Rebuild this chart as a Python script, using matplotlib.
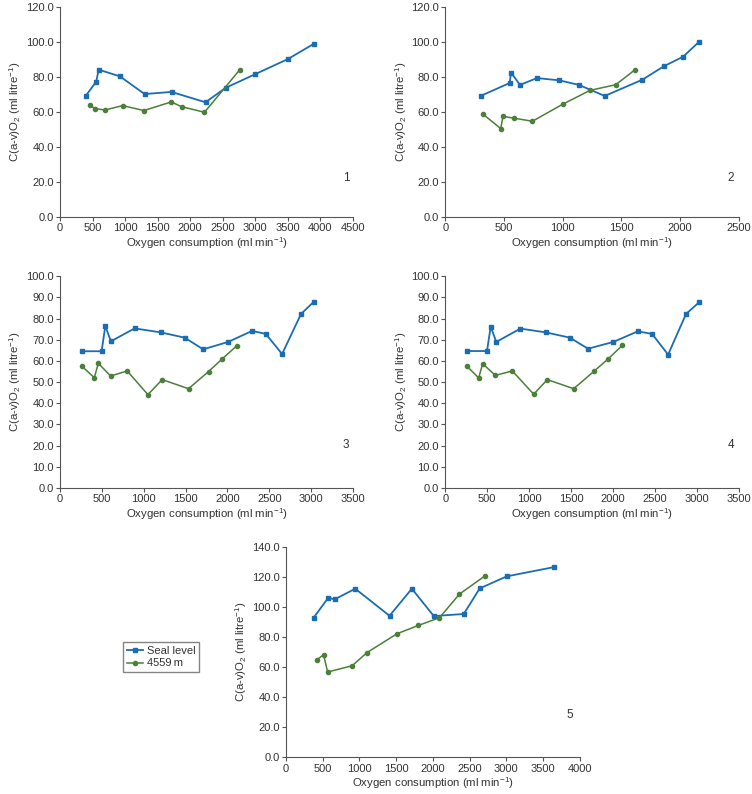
import matplotlib
matplotlib.use("Agg")
import matplotlib.pyplot as plt
from matplotlib.ticker import FormatStrFormatter

plt.rcParams['font.family'] = ['Liberation Sans', 'DejaVu Sans']
plt.rcParams['font.size'] = 8
plt.rcParams['mathtext.fontset'] = 'custom'
plt.rcParams['mathtext.rm'] = 'Liberation Sans'

BLUE = '#1b6db3'
GREEN = '#4b7f3a'
TXT = '#333333'

# Panel 1
p1_sea_x = [394, 557, 593, 920, 1299, 1713, 2235, 2547, 3002, 3498, 3902]
p1_sea_y = [69.0, 77.2, 84.0, 80.2, 70.1, 71.3, 65.4, 73.7, 81.5, 90.0, 98.8]
p1_alt_x = [460, 537, 690, 961, 1289, 1708, 1867, 2219, 2762]
p1_alt_y = [63.7, 61.8, 61.0, 63.5, 60.7, 65.6, 62.9, 59.7, 84.0]

# Panel 2
p2_sea_x = [307, 548, 560, 636, 781, 972, 1139, 1358, 1679, 1861, 2026, 2162]
p2_sea_y = [69.2, 76.4, 82.3, 75.3, 79.2, 77.9, 75.3, 69.0, 78.3, 85.9, 91.4, 99.9]
p2_alt_x = [318, 472, 491, 588, 742, 1006, 1233, 1452, 1617]
p2_alt_y = [58.8, 50.4, 57.4, 56.3, 54.6, 64.5, 72.2, 75.4, 84.0]

# Panel 3
p3_sea_x = [259, 497, 541, 608, 891, 1205, 1491, 1710, 2008, 2295, 2458, 2653, 2879, 3030]
p3_sea_y = [64.6, 64.6, 76.5, 69.3, 75.4, 73.5, 71.0, 65.5, 69.0, 74.2, 72.8, 63.3, 82.2, 87.9]
p3_alt_x = [262, 410, 457, 605, 803, 1050, 1221, 1535, 1774, 1941, 2112]
p3_alt_y = [57.5, 52.1, 58.9, 52.9, 55.3, 44.1, 51.2, 46.9, 55.0, 61.1, 67.2]

# Panel 4
p4_sea_x = [255, 497, 541, 608, 895, 1201, 1487, 1702, 2004, 2295, 2466, 2657, 2871, 3026]
p4_sea_y = [64.7, 64.7, 76.2, 69.0, 75.3, 73.5, 71.0, 65.8, 69.0, 74.0, 72.8, 63.0, 82.2, 87.7]
p4_alt_x = [258, 398, 445, 597, 799, 1054, 1217, 1531, 1778, 1945, 2112]
p4_alt_y = [57.5, 52.0, 58.7, 53.2, 55.3, 44.3, 51.2, 46.9, 55.3, 61.1, 67.4]

# Panel 5
p5_sea_x = [376, 576, 662, 943, 1410, 1714, 2013, 2421, 2638, 3005, 3654]
p5_sea_y = [92.8, 106.1, 105.0, 112.1, 94.1, 112.1, 93.9, 95.3, 112.3, 120.3, 126.5]
p5_alt_x = [422, 512, 567, 902, 1102, 1514, 1804, 2090, 2362, 2706]
p5_alt_y = [64.9, 68.2, 56.7, 60.9, 69.6, 82.2, 87.7, 92.8, 108.5, 120.5]

panels = [
    ("1", p1_sea_x, p1_sea_y, p1_alt_x, p1_alt_y, 4500, 500, 120, 20),
    ("2", p2_sea_x, p2_sea_y, p2_alt_x, p2_alt_y, 2500, 500, 120, 20),
    ("3", p3_sea_x, p3_sea_y, p3_alt_x, p3_alt_y, 3500, 500, 100, 10),
    ("4", p4_sea_x, p4_sea_y, p4_alt_x, p4_alt_y, 3500, 500, 100, 10),
    ("5", p5_sea_x, p5_sea_y, p5_alt_x, p5_alt_y, 4000, 500, 140, 20),
]

# axes rectangles in figure fractions
rects = [
    [0.0798, 0.7267, 0.3896, 0.2651],
    [0.5922, 0.7267, 0.3902, 0.2651],
    [0.0798, 0.3854, 0.3896, 0.2666],
    [0.5922, 0.3854, 0.3902, 0.2666],
    [0.3803, 0.0462, 0.3906, 0.2652],
]
num_pos = [(0.976, 0.185), (0.974, 0.185), (0.976, 0.203), (0.974, 0.203), (0.967, 0.20)]

fig = plt.figure(figsize=(7.52, 7.94), dpi=100)

for (name, sx, sy, ax_, ay, xmax, xstep, ymax, ystep), rect, npos in zip(panels, rects, num_pos):
    ax = fig.add_axes(rect)
    l1, = ax.plot(sx, sy, color=BLUE, marker='s', markersize=3.2, lw=1.3, label='Seal level')
    l2, = ax.plot(ax_, ay, color=GREEN, marker='o', markersize=3.0, lw=1.1, label='4559\u2009m')
    ax.set_xlim(0, xmax)
    ax.set_ylim(0, ymax)
    ax.set_xticks(range(0, xmax + 1, xstep))
    ax.set_yticks(range(0, ymax + 1, ystep))
    ax.yaxis.set_major_formatter(FormatStrFormatter('%.1f'))
    for s in ['top', 'right']:
        ax.spines[s].set_visible(False)
    for s in ['left', 'bottom']:
        ax.spines[s].set_color('#555555')
        ax.spines[s].set_linewidth(0.8)
    ax.tick_params(direction='out', length=3, width=0.8, color='#555555',
                   labelcolor=TXT, labelsize=8, pad=1.5)
    ax.set_xlabel('Oxygen consumption (ml min$^{-1}$)', fontsize=8.2, color=TXT, labelpad=1.5)
    ax.set_ylabel('C(a-v)O$_2$ (ml litre$^{-1}$)', fontsize=8.2, color=TXT, labelpad=2)
    ax.text(npos[0], npos[1], name, transform=ax.transAxes, ha='center', va='center',
            fontsize=8.5, color=TXT)

fig.legend(handles=[l1, l2], loc='upper left', bbox_to_anchor=(122.7 / 752, 1 - 642.3 / 794),
           frameon=True, fancybox=False, edgecolor='#666666', fontsize=8,
           handlelength=1.5, handletextpad=0.3, borderpad=0.35, labelspacing=0.2,
           borderaxespad=0, labelcolor=TXT)

fig.savefig('out.png', dpi=100)
